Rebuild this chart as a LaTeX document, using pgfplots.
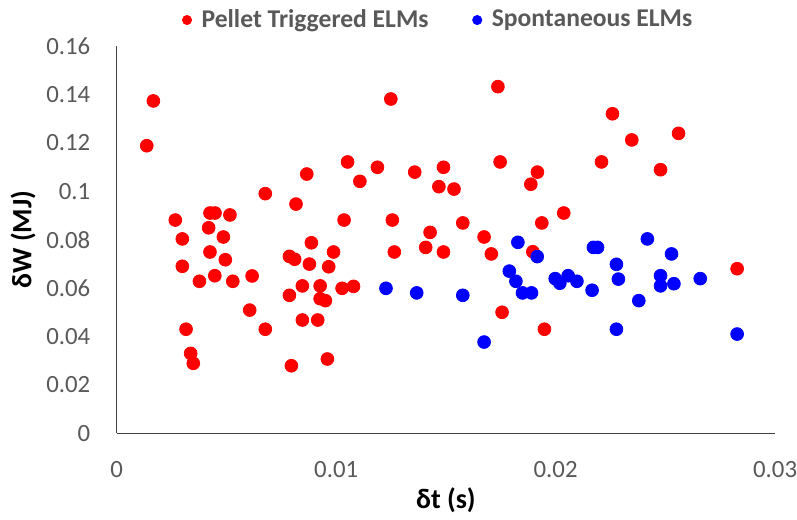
\documentclass[border=0pt]{standalone}
\usepackage{pgfplots}
\usepackage{pgfplotstable}
\pgfplotsset{compat=1.18}
\usepackage{fontspec}
\setmainfont{Carlito}

\definecolor{ticktext}{RGB}{89,89,89}
\definecolor{axisline}{RGB}{64,64,64}
\definecolor{pelletred}{RGB}{255,0,0}
\definecolor{sponblue}{RGB}{0,0,255}

% ELM energy loss dW (MJ) against waiting time dt (s)
\pgfplotstableread{
dt dW
0.00137 0.1188
0.00167 0.1373
0.00267 0.0881
0.00299 0.0803
0.00299 0.0690
0.00316 0.0430
0.00337 0.0330
0.00349 0.0289
0.00377 0.0628
0.00419 0.0849
0.00425 0.0910
0.00448 0.0910
0.00425 0.0749
0.00447 0.0651
0.00486 0.0811
0.00495 0.0717
0.00516 0.0902
0.00529 0.0628
0.00617 0.0650
0.00606 0.0509
0.00677 0.0990
0.00677 0.0430
0.00787 0.0731
0.00787 0.0570
0.00811 0.0719
0.00796 0.0279
0.00817 0.0947
0.00846 0.0609
0.00846 0.0468
0.00866 0.1071
0.00878 0.0699
0.00887 0.0787
0.00916 0.0468
0.00927 0.0609
0.00927 0.0556
0.00951 0.0548
0.00966 0.0688
0.00960 0.0307
0.00988 0.0749
0.01027 0.0599
0.01036 0.0881
0.01052 0.1121
0.01079 0.0607
0.01108 0.1041
0.01188 0.1099
0.01249 0.1381
0.01256 0.0881
0.01265 0.0749
0.01358 0.1079
0.01408 0.0768
0.01428 0.0830
0.01468 0.1019
0.01489 0.1099
0.01489 0.0749
0.01537 0.1009
0.01577 0.0869
0.01674 0.0811
0.01707 0.0741
0.01737 0.1432
0.01747 0.1121
0.01756 0.0500
0.01887 0.1029
0.01896 0.0750
0.01917 0.1079
0.01937 0.0869
0.01949 0.0430
0.02037 0.0910
0.02209 0.1121
0.02259 0.1320
0.02347 0.1212
0.02478 0.1089
0.02560 0.1239
0.02827 0.0680
}\pellettable

\pgfplotstableread{
dt dW
0.01227 0.0599
0.01367 0.0580
0.01577 0.0570
0.01674 0.0377
0.01789 0.0670
0.01819 0.0628
0.01828 0.0789
0.01849 0.0580
0.01890 0.0580
0.01916 0.0730
0.01998 0.0639
0.02019 0.0620
0.02057 0.0651
0.02097 0.0628
0.02166 0.0591
0.02172 0.0768
0.02191 0.0768
0.02277 0.0698
0.02277 0.0430
0.02286 0.0637
0.02379 0.0548
0.02418 0.0803
0.02478 0.0651
0.02478 0.0609
0.02528 0.0741
0.02539 0.0618
0.02659 0.0639
0.02827 0.0410
}\spontable

\begin{document}
\begin{tikzpicture}
\useasboundingbox (-58.35pt,-42.85pt) rectangle (340.15pt,216.65pt);
\begin{axis}[
  at={(0pt,0pt)}, anchor=south west,
  scale only axis,
  width=329.2pt, height=193.65pt,
  xmin=0, xmax=0.03, ymin=0, ymax=0.16,
  scaled ticks=false,
  axis x line*=bottom, axis y line*=left,
  axis line style={axisline, line width=0.6pt, -},
  xtick={0,0.01,0.02,0.03},
  xticklabels={0,0.01,0.02,0.03},
  ytick={0,0.02,0.04,0.06,0.08,0.1,0.12,0.14,0.16},
  yticklabels={0,0.02,0.04,0.06,0.08,0.1,0.12,0.14,0.16},
  major tick length=0pt,
  tick label style={font=\fontsize{12.4}{14}\selectfont, text=ticktext},
  xticklabel style={inner sep=0pt, anchor=north, yshift=-14pt},
  yticklabel style={inner sep=0pt, anchor=east, xshift=-13pt},
  xlabel={δt (s)}, ylabel={δW (MJ)},
  label style={font=\fontsize{14}{16}\selectfont\bfseries},
  xlabel style={at={(axis description cs:0.5,-0.172)}, anchor=center},
  ylabel style={at={(axis description cs:-0.1423,0.5)}, anchor=center},
  legend style={at={(axis description cs:0.49,1.067)}, anchor=center,
    draw=none, fill=none, inner sep=0pt,
    font=\fontsize{12.8}{15}\selectfont\bfseries, text=ticktext,
    /tikz/every odd column/.append style={column sep=3pt},
    /tikz/every even column/.append style={column sep=20pt}},
  legend columns=2,
  legend cell align=left,
  legend image code/.code={\draw[#1, mark size=2.3pt] plot coordinates {(0pt,0pt)};},
  clip=false,
]
\addplot[only marks, mark=*, mark size=3.2pt, pelletred,
  mark options={draw=pelletred, fill=pelletred}]
  table[x=dt, y=dW] {\pellettable};
\addlegendentry{Pellet Triggered ELMs}
\addplot[only marks, mark=*, mark size=3.2pt, sponblue,
  mark options={draw=sponblue, fill=sponblue}]
  table[x=dt, y=dW] {\spontable};
\addlegendentry{Spontaneous ELMs}
\end{axis}
\end{tikzpicture}
\end{document}
